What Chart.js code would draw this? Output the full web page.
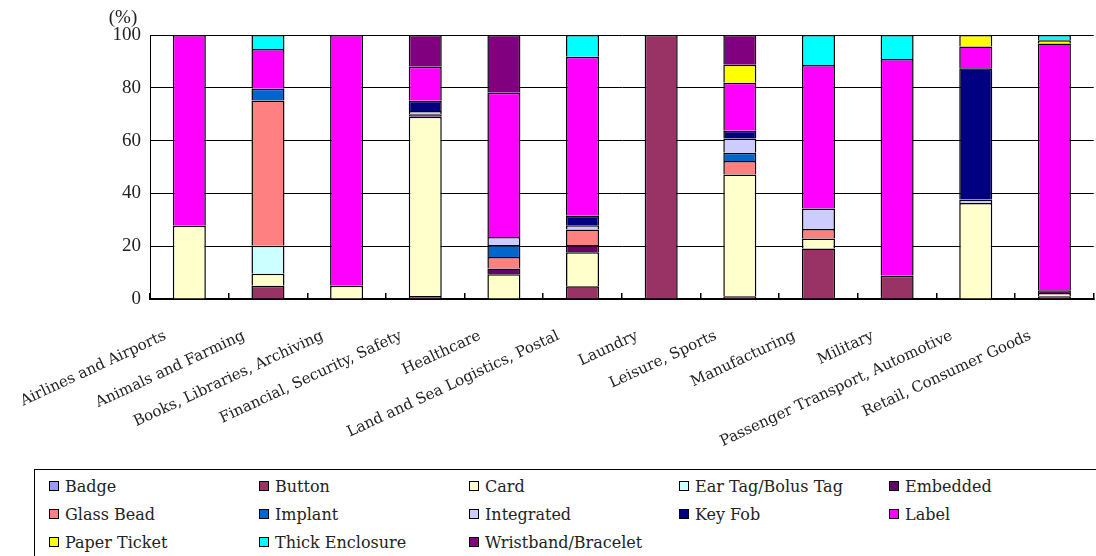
<!DOCTYPE html>
<html lang="en">
<head>
    <meta charset="UTF-8">
    <title>RFID tag types by application</title>

    <!-- Chart.js -->
    <script src="https://cdn.jsdelivr.net/npm/chart.js@4.4.1/dist/chart.umd.min.js"></script>
    <style>
        body { margin: 0; background: #fff; }
        .wrap { position: relative; width: 1096px; height: 556px; overflow: hidden; }
        #tagChart { position: absolute; left: 0; top: 0; }
        #legend {
            position: absolute; left: 34px; top: 469px; width: 1064px; height: 92px;
            border: 1.5px solid #000; box-sizing: border-box;
            display: grid; grid-template-columns: repeat(5, 210px); grid-auto-rows: 28px;
            padding: 2px 0 0 14px;
            font-family: "DejaVu Serif", serif; font-size: 16px; color: #222;
        }
        .item { display: flex; align-items: center; white-space: nowrap; }
        .swatch { width: 8px; height: 8px; border: 1.5px solid #000; margin-right: 6px; }
    </style>
</head>
<body>
    <div class="wrap">
        <canvas id="tagChart" width="1096" height="465"></canvas>
        <div id="legend"></div>
    </div>

    <script>
        // Application areas along the x axis
        const categories = [
            'Airlines and Airports', 'Animals and Farming', 'Books, Libraries, Archiving',
            'Financial, Security, Safety', 'Healthcare', 'Land and Sea Logistics, Postal',
            'Laundry', 'Leisure, Sports', 'Manufacturing', 'Military',
            'Passenger Transport, Automotive', 'Retail, Consumer Goods'
        ];

        // Share of each tag type per application (%), same order as categories
        const badge           = [0, 0, 0, 0, 0, 0, 0, 0, 0, 0, 0, 0];
        const button          = [0, 5.0, 0, 1.1, 0, 4.8, 100, 1.0, 19.1, 8.8, 0, 1.0];
        const card            = [27.7, 4.6, 5.0, 67.9, 9.4, 12.9, 0, 46.2, 3.8, 0, 36.4, 1.3];
        const earTag          = [0, 10.6, 0, 0, 0, 0, 0, 0, 0, 0, 0, 0];
        const embedded        = [0, 0, 0, 1.0, 2.2, 2.8, 0, 0, 0, 0, 0, 1.0];
        const glassBead       = [0, 55.0, 0, 0, 4.3, 5.8, 0, 5.1, 3.6, 0, 0, 0];
        const implant         = [0, 4.4, 0, 0, 4.6, 0, 0, 3.1, 0, 0, 0, 0];
        const integrated      = [0, 0, 0, 1.2, 3.0, 1.6, 0, 5.4, 7.8, 0, 1.3, 0];
        const keyFob          = [0, 0, 0, 3.9, 0, 3.6, 0, 2.9, 0, 0, 49.7, 0];
        const label           = [72.3, 15.1, 95.0, 12.9, 54.6, 60.3, 0, 18.2, 54.3, 82.1, 8.2, 93.5];
        const paperTicket     = [0, 0, 0, 0, 0, 0, 0, 6.8, 0, 0, 4.4, 1.2];
        const thickEnclosure  = [0, 5.3, 0, 0, 0, 8.2, 0, 0, 11.4, 9.1, 0, 2.0];
        const wristband       = [0, 0, 0, 12.0, 21.9, 0, 0, 11.3, 0, 0, 0, 0];

        // Y axis ticks
        const yTicks = [0, 20, 40, 60, 80, 100];

        const series = [
            ['Badge', badge, '#9999FF'],
            ['Button', button, '#993366'],
            ['Card', card, '#FFFFCC'],
            ['Ear Tag/Bolus Tag', earTag, '#CCFFFF'],
            ['Embedded', embedded, '#660066'],
            ['Glass Bead', glassBead, '#FF8080'],
            ['Implant', implant, '#0066CC'],
            ['Integrated', integrated, '#CCCCFF'],
            ['Key Fob', keyFob, '#000080'],
            ['Label', label, '#FF00FF'],
            ['Paper Ticket', paperTicket, '#FFFF00'],
            ['Thick Enclosure', thickEnclosure, '#00FFFF'],
            ['Wristband/Bracelet', wristband, '#800080']
        ];

        const datasets = series.map(([name, values, color]) => ({
            label: name,
            data: values.map(v => v === 0 ? null : v),
            backgroundColor: color,
            borderColor: '#000',
            borderWidth: 1.5,
            barPercentage: 0.42,
            categoryPercentage: 1.0
        }));

        // "(%)" caption above the y axis
        const unitCaption = {
            id: 'unitCaption',
            afterDraw(chart) {
                const ctx = chart.ctx;
                ctx.save();
                ctx.font = '19px "Liberation Serif"';
                ctx.fillStyle = '#222';
                ctx.textAlign = 'center';
                ctx.textBaseline = 'middle';
                ctx.fillText('(%)', 123, 18);
                ctx.restore();
            }
        };

        // Legend box below the chart, built from the datasets
        const htmlLegend = {
            id: 'htmlLegend',
            afterUpdate(chart) {
                const box = document.getElementById('legend');
                box.innerHTML = '';
                chart.data.datasets.forEach(ds => {
                    const item = document.createElement('div');
                    item.className = 'item';
                    const sw = document.createElement('span');
                    sw.className = 'swatch';
                    sw.style.background = ds.backgroundColor;
                    item.appendChild(sw);
                    item.appendChild(document.createTextNode(ds.label));
                    box.appendChild(item);
                });
            }
        };

        new Chart(document.getElementById('tagChart'), {
            type: 'bar',
            data: { labels: categories, datasets },
            options: {
                responsive: false,
                animation: false,
                layout: { padding: { top: 35, right: 0, left: 0, bottom: 0 } },
                plugins: {
                    legend: { display: false },
                    tooltip: { enabled: false }
                },
                scales: {
                    x: {
                        stacked: true,
                        grid: { drawOnChartArea: false, color: '#000', tickLength: -6, lineWidth: 1.5 },
                        border: { color: '#000', width: 2 },
                        ticks: {
                            autoSkip: false,
                            maxRotation: 25,
                            minRotation: 25,
                            padding: 34,
                            labelOffset: -24,
                            color: '#222',
                            font: { family: '"DejaVu Serif"', size: 15 }
                        },
                        afterFit(scale) { scale.height = 166; }
                    },
                    y: {
                        stacked: true,
                        min: 0,
                        max: 100,
                        afterBuildTicks(scale) { scale.ticks = yTicks.map(v => ({ value: v })); },
                        grid: { color: '#000', drawTicks: false },
                        border: { color: '#000', width: 1 },
                        ticks: {
                            padding: 9,
                            color: '#222',
                            font: { family: '"Liberation Serif"', size: 19 }
                        },
                        afterFit(scale) { scale.width = 150; }
                    }
                }
            },
            plugins: [unitCaption, htmlLegend]
        });
    </script>
</body>
</html>
